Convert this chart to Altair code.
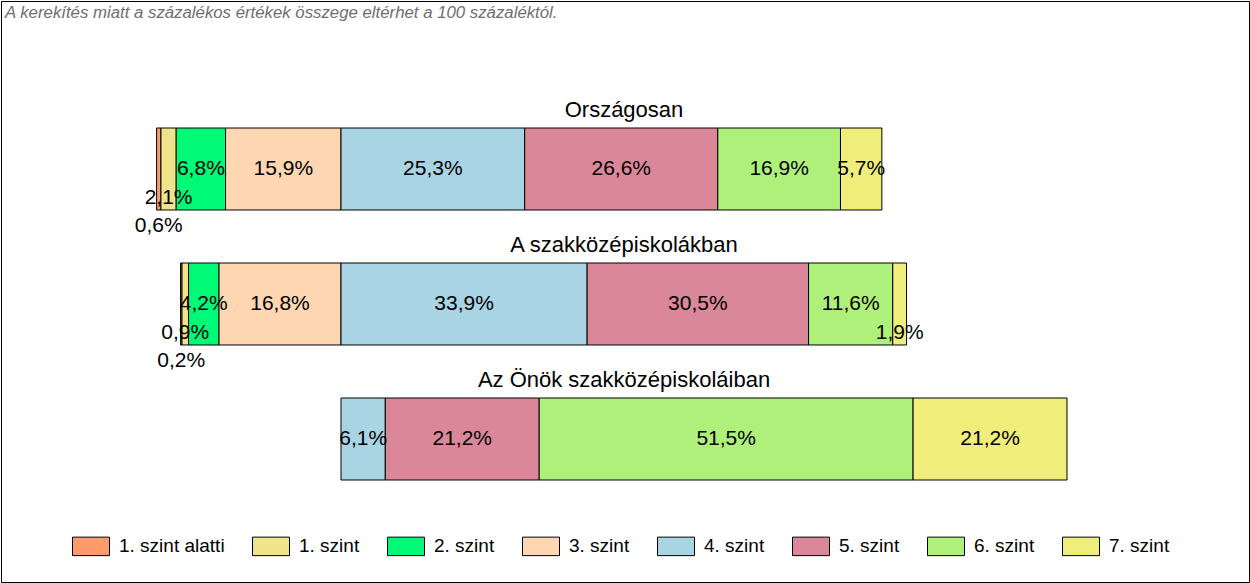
import altair as alt
import pandas as pd

groups = ["Országosan", "A szakközépiskolákban", "Az Önök szakközépiskoláiban"]
levels = ["1. szint alatti", "1. szint", "2. szint", "3. szint",
          "4. szint", "5. szint", "6. szint", "7. szint"]
colors = ["#FF9A6C", "#F0E48A", "#00FA78", "#FFD6B2",
          "#A8D4E4", "#DA8899", "#AEF07A", "#EFEE7A"]
orszagos = [0.6, 2.1, 6.8, 15.9, 25.3, 26.6, 16.9, 5.7]
szakkozep = [0.2, 0.9, 4.2, 16.8, 33.9, 30.5, 11.6, 1.9]
onok = [0.0, 0.0, 0.0, 0.0, 6.1, 21.2, 51.5, 21.2]
note = "A kerekítés miatt a  százalékos értékek összege eltérhet a 100 százaléktól."

series = [orszagos, szakkozep, onok]
rows = []
for g, vals in zip(groups, series):
    start = -sum(vals[:4])
    for i, (lev, v) in enumerate(zip(levels, vals)):
        if v > 0:
            r = 0 if v >= 3 else (1 if v >= 0.75 else 2)
            rows.append({"group": g, "level": lev, "order": i, "value": v,
                         "x0": start, "x1": start + v,
                         "label": f"{v:.1f}".replace(".", ",") + "%",
                         "row": r})
        start += v
df = pd.DataFrame(rows)
titles = pd.DataFrame({"group": groups, "title": groups})

FONT = "Liberation Sans"
xscale = alt.Scale(domain=[-340 / 7.26, 908 / 7.26], nice=False, zero=False)
yscale = alt.Scale(domain=groups, range=[127, 479], paddingInner=0.3926, paddingOuter=0)

base = alt.Chart(df)
bars = base.mark_bar(stroke="black", strokeWidth=1).encode(
    x=alt.X("x0:Q", scale=xscale, axis=None),
    x2="x1:Q",
    y=alt.Y("group:N", scale=yscale, axis=None),
    color=alt.Color("level:N", scale=alt.Scale(domain=levels, range=colors),
                    legend=alt.Legend(title=None, orient="none", legendX=71, legendY=526,
                                      direction="horizontal", symbolType="M-1,-0.5H1V0.5H-1Z",
                                      symbolSize=1369, symbolStrokeColor="black",
                                      symbolStrokeWidth=1, symbolOpacity=1,
                                      labelFont=FONT, labelFontSize=19, labelColor="black",
                                      labelOffset=9, columnPadding=25)),
    order="order:Q",
)

label_layers = []
for r, dy in [(0, 0), (1, 29), (2, 57)]:
    label_layers.append(
        base.transform_filter(alt.datum.row == r)
        .transform_calculate(mid="(datum.x0 + datum.x1) / 2")
        .mark_text(font=FONT, fontSize=21, color="black", align="center",
                   baseline="middle", dy=dy)
        .encode(x=alt.X("mid:Q", scale=xscale, axis=None),
                y=alt.Y("group:N", scale=yscale, axis=None),
                text="label:N")
    )

title_layer = alt.Chart(titles).mark_text(
    font=FONT, fontSize=22, color="black", align="center", baseline="middle", dy=-18
).encode(
    x=alt.value(623),
    y=alt.Y("group:N", scale=yscale, axis=None, bandPosition=0),
    text="title:N",
)

note_layer = alt.Chart(pd.DataFrame({"t": [note]})).mark_text(
    font=FONT, fontSize=16.8, fontStyle="italic", color="#6E6E6E", align="left", baseline="middle"
).encode(x=alt.value(4), y=alt.value(12), text="t:N")

chart = alt.layer(bars, *label_layers, title_layer, note_layer).properties(
    width=1248, height=581, padding=1, autosize="none"
).configure_view(stroke="black", strokeWidth=1)

chart.save("out.html", embed_options={"renderer": "svg", "actions": False})
